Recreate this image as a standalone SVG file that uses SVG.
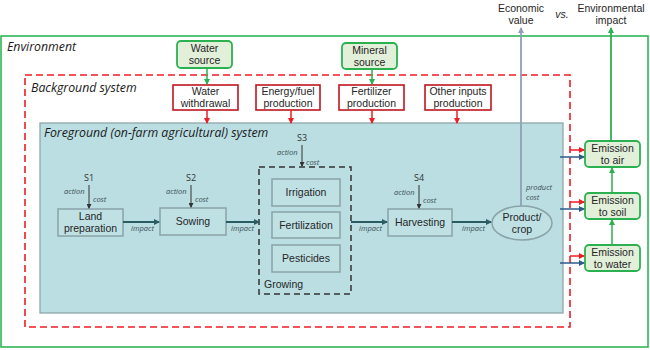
<svg xmlns="http://www.w3.org/2000/svg" width="650" height="350" viewBox="0 0 650 350">
<style>
text{font-family:"Liberation Sans",Arial,sans-serif;fill:#262626}
.lbl{font-size:10.5px;text-anchor:middle}
.ttl{font-family:"Open Sans","Liberation Sans",sans-serif;font-style:italic;font-size:12.3px;fill:#1a1a1a}
.sm{font-family:"Open Sans","Liberation Sans",sans-serif;font-style:italic;font-size:7.5px;fill:#3b4f55}
.s{font-family:"Open Sans","Liberation Sans",sans-serif;font-size:9px;text-anchor:middle;fill:#333}
.gbox{fill:#e2efd9;stroke:#2cb150;stroke-width:1.8}
.rbox{fill:#fff;stroke:#c0161e;stroke-width:1.6}
.fbox{fill:#bfe1e4;stroke:#8aa3a6;stroke-width:1.5}
.fa{stroke:#2c5c63;stroke-width:1.8;fill:none;marker-end:url(#ta)}
.da{stroke:#333;stroke-width:1;fill:none;marker-end:url(#ka)}
.ra{stroke:#ee1c25;stroke-width:1.5;fill:none;marker-end:url(#ra)}
.ba{stroke:#2e5a8a;stroke-width:1.5;fill:none;marker-end:url(#ba)}
.ga{stroke:#2cb150;stroke-width:1.8;fill:none;marker-end:url(#ga)}
</style>
<defs>
<marker id="ta" markerWidth="6" markerHeight="6" refX="5" refY="3" orient="auto" markerUnits="userSpaceOnUse"><path d="M0,0L6,3L0,6z" fill="#2c5c63"/></marker>
<marker id="ka" markerWidth="5" markerHeight="5" refX="4" refY="2.5" orient="auto" markerUnits="userSpaceOnUse"><path d="M0,0L5,2.5L0,5z" fill="#333"/></marker>
<marker id="ra" markerWidth="6" markerHeight="6" refX="5" refY="3" orient="auto" markerUnits="userSpaceOnUse"><path d="M0,0L6,3L0,6z" fill="#ee1c25"/></marker>
<marker id="ba" markerWidth="6" markerHeight="6" refX="5" refY="3" orient="auto" markerUnits="userSpaceOnUse"><path d="M0,0L6,3L0,6z" fill="#2e5a8a"/></marker>
<marker id="ga" markerWidth="6" markerHeight="6" refX="5" refY="3" orient="auto" markerUnits="userSpaceOnUse"><path d="M0,0L6,3L0,6z" fill="#2cb150"/></marker>
<marker id="gy" markerWidth="6" markerHeight="6" refX="5" refY="3" orient="auto" markerUnits="userSpaceOnUse"><path d="M0,0L6,3L0,6z" fill="#8fa0b8"/></marker>
</defs>
<rect width="650" height="350" fill="#fff"/>

<g id="environment">
<rect x="1" y="36" width="647" height="311" fill="none" stroke="#22b14c" stroke-width="1.5"/>
<text class="ttl" x="7" y="51">Environment</text>
</g>
<g id="background">
<rect x="25" y="75" width="545" height="252" fill="none" stroke="#ee1c25" stroke-width="1.6" stroke-dasharray="7,4"/>
<text class="ttl" x="31" y="92">Background system</text>
</g>
<g id="foreground">
<rect x="40" y="123" width="523" height="190" fill="#badee2" stroke="#8fa6a9" stroke-width="1.3"/>
<text class="ttl" x="44" y="137">Foreground (on-farm agricultural) system</text>
</g>

<g id="top-labels">
<text class="lbl" x="521" y="12" fill="#333">Economic</text>
<text class="lbl" x="521" y="24">value</text>
<text x="562" y="18" style="font-size:10.5px;font-style:italic;text-anchor:middle">vs.</text>
<text class="lbl" x="611" y="12">Environmental</text>
<text class="lbl" x="611" y="24">impact</text>
</g>

<g id="water-source"><rect class="gbox" x="177" y="41" width="55" height="27" rx="4"/><text class="lbl" x="204.5" y="52">Water</text><text class="lbl" x="204.5" y="64">source</text></g>
<g id="mineral-source"><rect class="gbox" x="342" y="43" width="55" height="26" rx="4"/><text class="lbl" x="369.5" y="54">Mineral</text><text class="lbl" x="369.5" y="66">source</text></g>

<g id="water-withdrawal"><rect class="rbox" x="173" y="85" width="65" height="25"/><text class="lbl" x="205.5" y="95">Water</text><text class="lbl" x="205.5" y="107">withdrawal</text></g>
<g id="energy-fuel"><rect class="rbox" x="256" y="85" width="64" height="25"/><text class="lbl" x="288" y="95">Energy/fuel</text><text class="lbl" x="288" y="107">production</text></g>
<g id="fertilizer-production"><rect class="rbox" x="339" y="85" width="65" height="25"/><text class="lbl" x="371.5" y="95">Fertilizer</text><text class="lbl" x="371.5" y="107">production</text></g>
<g id="other-inputs"><rect class="rbox" x="425" y="85" width="66" height="25"/><text class="lbl" x="458" y="95">Other inputs</text><text class="lbl" x="458" y="107">production</text></g>

<g id="land-preparation"><rect class="fbox" x="58" y="209" width="65" height="27"/><text class="lbl" x="90.5" y="220">Land</text><text class="lbl" x="90.5" y="232">preparation</text></g>
<g id="sowing"><rect class="fbox" x="160" y="208" width="66" height="27"/><text class="lbl" x="193" y="225">Sowing</text></g>
<g id="growing">
<rect x="259" y="167" width="92" height="127" fill="none" stroke="#333" stroke-width="1.5" stroke-dasharray="6,4"/>
<text x="264" y="288" style="font-size:10.5px">Growing</text>
</g>
<g id="irrigation"><rect class="fbox" x="272" y="179" width="68" height="27"/><text class="lbl" x="306" y="196">Irrigation</text></g>
<g id="fertilization"><rect class="fbox" x="272" y="212" width="68" height="26"/><text class="lbl" x="306" y="229">Fertilization</text></g>
<g id="pesticides"><rect class="fbox" x="272" y="245" width="68" height="27"/><text class="lbl" x="306" y="262">Pesticides</text></g>
<g id="harvesting"><rect class="fbox" x="388" y="209" width="64" height="27"/><text class="lbl" x="420" y="226">Harvesting</text></g>
<g id="product-crop"><ellipse cx="522" cy="223" rx="30" ry="17" fill="#bfe1e4" stroke="#8aa3a6" stroke-width="1.5"/><text class="lbl" x="522" y="221">Product/</text><text class="lbl" x="522" y="233">crop</text></g>

<g id="emission-air"><rect class="gbox" x="585" y="141" width="55" height="26" rx="4"/><text class="lbl" x="612.5" y="152">Emission</text><text class="lbl" x="612.5" y="164">to air</text></g>
<g id="emission-soil"><rect class="gbox" x="585" y="193" width="55" height="26" rx="4"/><text class="lbl" x="612.5" y="204">Emission</text><text class="lbl" x="612.5" y="216">to soil</text></g>
<g id="emission-water"><rect class="gbox" x="585" y="245" width="55" height="26" rx="4"/><text class="lbl" x="612.5" y="256">Emission</text><text class="lbl" x="612.5" y="268">to water</text></g>

<g id="step-labels">
<text class="s" x="89" y="181">S1</text>
<text class="sm" x="64" y="194">action</text><text class="sm" x="93" y="202">cost</text>
<text class="s" x="191" y="181">S2</text>
<text class="sm" x="166" y="194">action</text><text class="sm" x="195" y="202">cost</text>
<text class="s" x="302" y="141">S3</text>
<text class="sm" x="277" y="155">action</text><text class="sm" x="306" y="165">cost</text>
<text class="s" x="419" y="181">S4</text>
<text class="sm" x="394" y="195">action</text><text class="sm" x="423" y="203">cost</text>
<text class="sm" x="131" y="231">impact</text>
<text class="sm" x="231" y="231">impact</text>
<text class="sm" x="359" y="231">impact</text>
<text class="sm" x="462" y="231">impact</text>
<text class="sm" x="526" y="190">product</text>
<text class="sm" x="526" y="200">cost</text>
</g>

<g id="connectors">
<line class="ga" x1="207" y1="68" x2="207" y2="84" style="stroke-width:1.5"/>
<line class="ga" x1="372" y1="69" x2="372" y2="84" style="stroke-width:1.5"/>
<line class="ra" x1="207" y1="110" x2="207" y2="123"/>
<line class="ra" x1="291" y1="110" x2="291" y2="123"/>
<line class="ra" x1="372" y1="110" x2="372" y2="123"/>
<line class="ra" x1="457" y1="110" x2="457" y2="123"/>
<line class="da" x1="89" y1="185" x2="89" y2="208"/>
<line class="da" x1="191" y1="185" x2="191" y2="207"/>
<line class="da" x1="302" y1="145" x2="302" y2="166"/>
<line class="da" x1="419" y1="185" x2="419" y2="208"/>
<line class="fa" x1="123" y1="222" x2="159" y2="222"/>
<line class="fa" x1="226" y1="222" x2="259" y2="222"/>
<line class="fa" x1="351" y1="222" x2="387" y2="222"/>
<line class="fa" x1="452" y1="222" x2="491" y2="222"/>
<line x1="521" y1="206" x2="521" y2="28" stroke="#8fa0b8" stroke-width="1.8" marker-end="url(#gy)"/>
<line class="ga" x1="611" y1="141" x2="611" y2="28"/>
<line class="ga" x1="612" y1="193" x2="612" y2="168" style="stroke-width:1.5"/>
<line class="ga" x1="612" y1="245" x2="612" y2="220" style="stroke-width:1.5"/>
<line class="ra" x1="570" y1="150" x2="584" y2="150"/>
<line class="ra" x1="570" y1="202" x2="584" y2="202"/>
<line class="ra" x1="570" y1="256" x2="584" y2="256"/>
<line class="ba" x1="560" y1="157" x2="584" y2="157"/>
<line class="ba" x1="560" y1="209" x2="584" y2="209"/>
<line class="ba" x1="560" y1="263" x2="584" y2="263"/>
</g>
</svg>
